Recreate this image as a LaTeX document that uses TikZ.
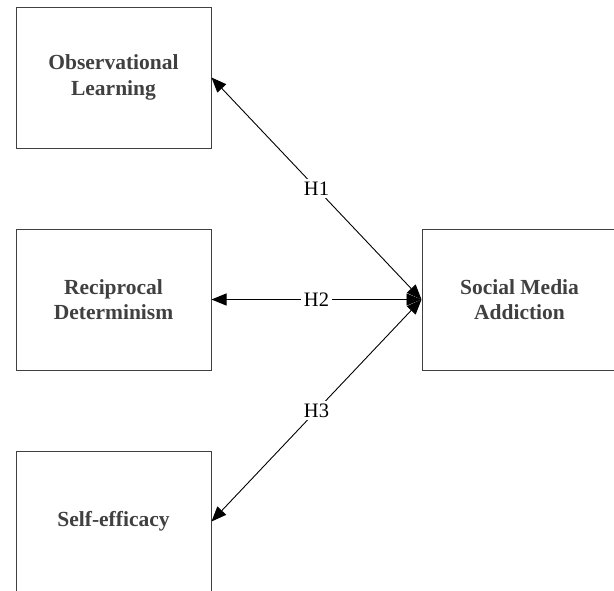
\documentclass[tikz,border=0pt]{standalone}
\usepackage{fontspec}
\setmainfont{Liberation Serif}
\usetikzlibrary{arrows.meta}
\definecolor{boxtext}{HTML}{404040}
\definecolor{boxline}{HTML}{404040}
\tikzset{
  box/.style={draw=boxline, line width=1pt, minimum width=195pt, minimum height=141pt,
    align=center, font=\fontsize{21.5}{25.5}\selectfont\bfseries, text=boxtext, inner sep=0pt},
  link/.style={draw=black, line width=0.9pt, {Triangle[length=15pt,width=12pt]}-{Triangle[length=15pt,width=12pt]}},
  hlabel/.style={fill=white, inner sep=3pt, font=\fontsize{20.5}{24}\selectfont, text=black}
}
\begin{document}
\begin{tikzpicture}[x=1pt,y=-1pt]
\clip (0,0) rectangle (614,590);
\node[box] (ol) at (113.5,77.5) {Observational\\Learning};
\node[box] (rd) at (113.5,299.5) {Reciprocal\\Determinism};
\node[box] (se) at (113.5,521.5) {Self-efficacy};
\node[box] (sma) at (519.5,299.5) {Social Media\\Addiction};
\draw[link] (ol.east) -- node[hlabel] (h1) {H1} (sma.west);
\draw[link] (rd.east) -- node[hlabel] (h2) {H2} (sma.west);
\draw[link] (sma.west) -- node[hlabel] (h3) {H3} (se.east);
\end{tikzpicture}
\end{document}
